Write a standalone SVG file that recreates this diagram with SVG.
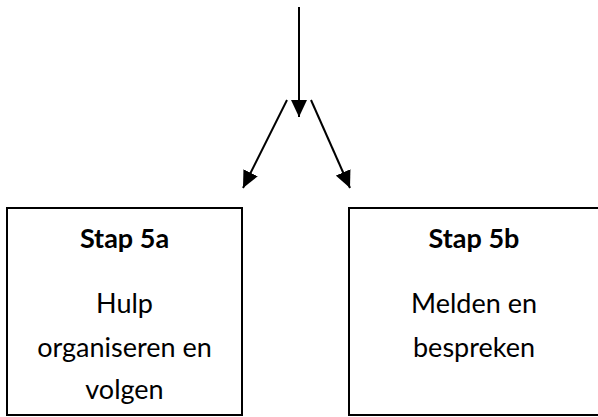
<svg xmlns="http://www.w3.org/2000/svg" width="598" height="417" viewBox="0 0 598 417">
<style>
.box{fill:#fff;stroke:#000;stroke-width:2}
.t{font-family:Lato,"Open Sans","Liberation Sans",sans-serif;font-size:27px;fill:#000;text-anchor:middle}
.b{font-weight:bold}
.c{stroke:#000;stroke-width:2;fill:none}
</style>
<defs>
<marker id="ah" viewBox="0 0 17 16" refX="17" refY="8" markerWidth="17" markerHeight="16" markerUnits="userSpaceOnUse" orient="auto">
<path d="M0,0 L17,8 L0,16 Z" fill="#000"/>
</marker>
</defs>
<rect width="598" height="417" fill="#fff"/>
<g id="connectors">
<line class="c" x1="299" y1="7" x2="299" y2="117" marker-end="url(#ah)"/>
<line class="c" x1="287" y1="100" x2="243" y2="188" marker-end="url(#ah)"/>
<line class="c" x1="311" y1="100" x2="350" y2="188" marker-end="url(#ah)"/>
</g>
<g id="stap5a">
<rect class="box" x="7" y="208" width="235" height="207"/>
<text class="t b" x="124.5" y="248">Stap 5a</text>
<text class="t" x="124.5" y="313">Hulp</text>
<text class="t" x="124.5" y="357">organiseren en</text>
<text class="t" x="124.5" y="399">volgen</text>
</g>
<g id="stap5b">
<rect class="box" x="349" y="208" width="251" height="207"/>
<text class="t b" x="474" y="248">Stap 5b</text>
<text class="t" x="474" y="313">Melden en</text>
<text class="t" x="474" y="357">bespreken</text>
</g>
</svg>
